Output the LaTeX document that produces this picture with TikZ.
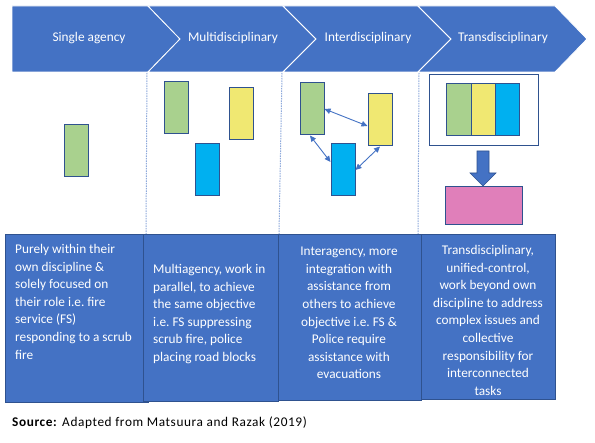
\documentclass[tikz,border=0pt]{standalone}
\usepackage{fontspec}
\setmainfont{Carlito}
\usetikzlibrary{arrows.meta}
\definecolor{boxblue}{HTML}{4472C4}
\definecolor{bordblue}{HTML}{2F528F}
\definecolor{grn}{HTML}{A9D18E}
\definecolor{ylw}{HTML}{F0E872}
\definecolor{cyn}{HTML}{00B0F0}
\definecolor{pnk}{HTML}{E07FBA}
\definecolor{dotblue}{HTML}{8FAADC}
\begin{document}
\begin{tikzpicture}[x=1pt,y=-1pt,
  chev/.style={fill=boxblue, draw=white, line width=0.8pt},
  chevtext/.style={text=white, font=\fontsize{13.3}{16}\selectfont, anchor=base, inner sep=0pt},
  card/.style={draw=bordblue, line width=1pt, inner sep=0pt},
  panel/.style={draw=bordblue, fill=boxblue, line width=1pt, anchor=north west, inner sep=0pt},
  ptext/.style={text=white, font=\fontsize{13.3}{17.6}\selectfont\frenchspacing, inner sep=0pt, anchor=north},
  sep/.style={dotblue, line width=1pt, dash pattern=on 1.5pt off 1pt},
  dbl/.style={boxblue, line width=0.9pt, {Triangle[length=6pt,width=5.5pt]}-{Triangle[length=6pt,width=5.5pt]}}
]
\useasboundingbox[fill=white] (0,0) rectangle (595,443);

% chevrons
\draw[chev] (12,6) -- (148,6) -- (180,39) -- (148,72) -- (12,72) -- cycle;
\draw[chev] (148,6) -- (283,6) -- (316,39) -- (283,72) -- (148,72) -- (180,39) -- cycle;
\draw[chev] (283,6) -- (418,6) -- (451,39) -- (418,72) -- (283,72) -- (316,39) -- cycle;
\draw[chev] (418,6) -- (555,6) -- (587,39) -- (555,72) -- (418,72) -- (451,39) -- cycle;
\node[chevtext] (c1) at (89,42) {Single agency};
\node[chevtext] (c2) at (233,42) {Multidisciplinary};
\node[chevtext] (c3) at (368,42) {Interdisciplinary};
\node[chevtext] (c4) at (503,42) {Transdisciplinary};

% separators
\draw[sep] (147,73) -- (146,234);
\draw[sep] (282,73) -- (279,234);
\draw[sep] (419,73) -- (418,234);

% single agency
\node[card, fill=grn, minimum width=24pt, minimum height=52pt] (sg) at (76,151) {};

% multidisciplinary
\node[card, fill=grn, minimum width=24pt, minimum height=52pt] (mg) at (176,108) {};
\node[card, fill=ylw, minimum width=24pt, minimum height=52pt] (my) at (241,114) {};
\node[card, fill=cyn, minimum width=24pt, minimum height=52pt] (mb) at (207,170) {};

% interdisciplinary
\node[card, fill=grn, minimum width=24pt, minimum height=52pt] (ig) at (312,109) {};
\node[card, fill=ylw, minimum width=24pt, minimum height=52pt] (iy) at (380,120) {};
\node[card, fill=cyn, minimum width=24pt, minimum height=52pt] (ib) at (343,170) {};
\draw[dbl] (ig.east) -- ([yshift=-6pt]iy.west);
\draw[dbl] ([xshift=-2pt]ig.south) -- ([yshift=8pt]ib.west);
\draw[dbl] (ib.east) -- (iy.south);

% transdisciplinary
\node[card, fill=white, minimum width=109pt, minimum height=71pt] (to) at (483.5,110.5) {};
\node[card, fill=grn, minimum width=25pt, minimum height=52pt] (tg) at (458.5,110) {};
\node[card, fill=ylw, minimum width=24pt, minimum height=52pt] (ty) at (483,110) {};
\node[card, fill=cyn, minimum width=24pt, minimum height=52pt] (tb) at (507,110) {};
\node[card, fill=pnk, minimum width=77pt, minimum height=38pt] (tp) at (483.5,206) {};
\draw[fill=boxblue, draw=bordblue, line width=0.6pt]
  (477,151) -- (489,151) -- (489,173) -- (496,173) -- (483,186) -- (470,173) -- (477,173) -- cycle;

% panels
\node[panel, minimum width=143pt, minimum height=168pt] (p1) at (5,234) {};
\node[panel, minimum width=135pt, minimum height=167pt] (p2) at (143,234) {};
\node[panel, minimum width=143pt, minimum height=166pt] (p3) at (278,234) {};
\node[panel, minimum width=134pt, minimum height=165pt] (p4) at (421,234) {};

\node[ptext, anchor=north west, align=left] (t1) at (15,244) {Purely within their\\own discipline \&\\solely focused on\\their role i.e. fire\\service (FS)\\responding to a scrub\\fire};
\node[ptext, anchor=north west, align=left] (t2) at (153,264) {Multiagency, work in\\parallel, to achieve\\the same objective\\i.e. FS suppressing\\scrub fire, police\\placing road blocks};
\node[ptext, align=center] (t3) at (349,247) {Interagency, more\\integration with\\assistance from\\others to achieve\\objective i.e. FS \&\\Police require\\assistance with\\evacuations};
\node[ptext, align=center] (t4) at (488,245) {Transdisciplinary,\\unified-control,\\work beyond own\\discipline to address\\complex issues and\\collective\\responsibility for\\interconnected\\tasks};

\node[anchor=base west, inner sep=0pt, font=\fontsize{13.3}{16}\selectfont\addfontfeatures{LetterSpace=4.5}] (src) at (12,427) {\textbf{Source:} Adapted from Matsuura and Razak (2019)};
\end{tikzpicture}
\end{document}
